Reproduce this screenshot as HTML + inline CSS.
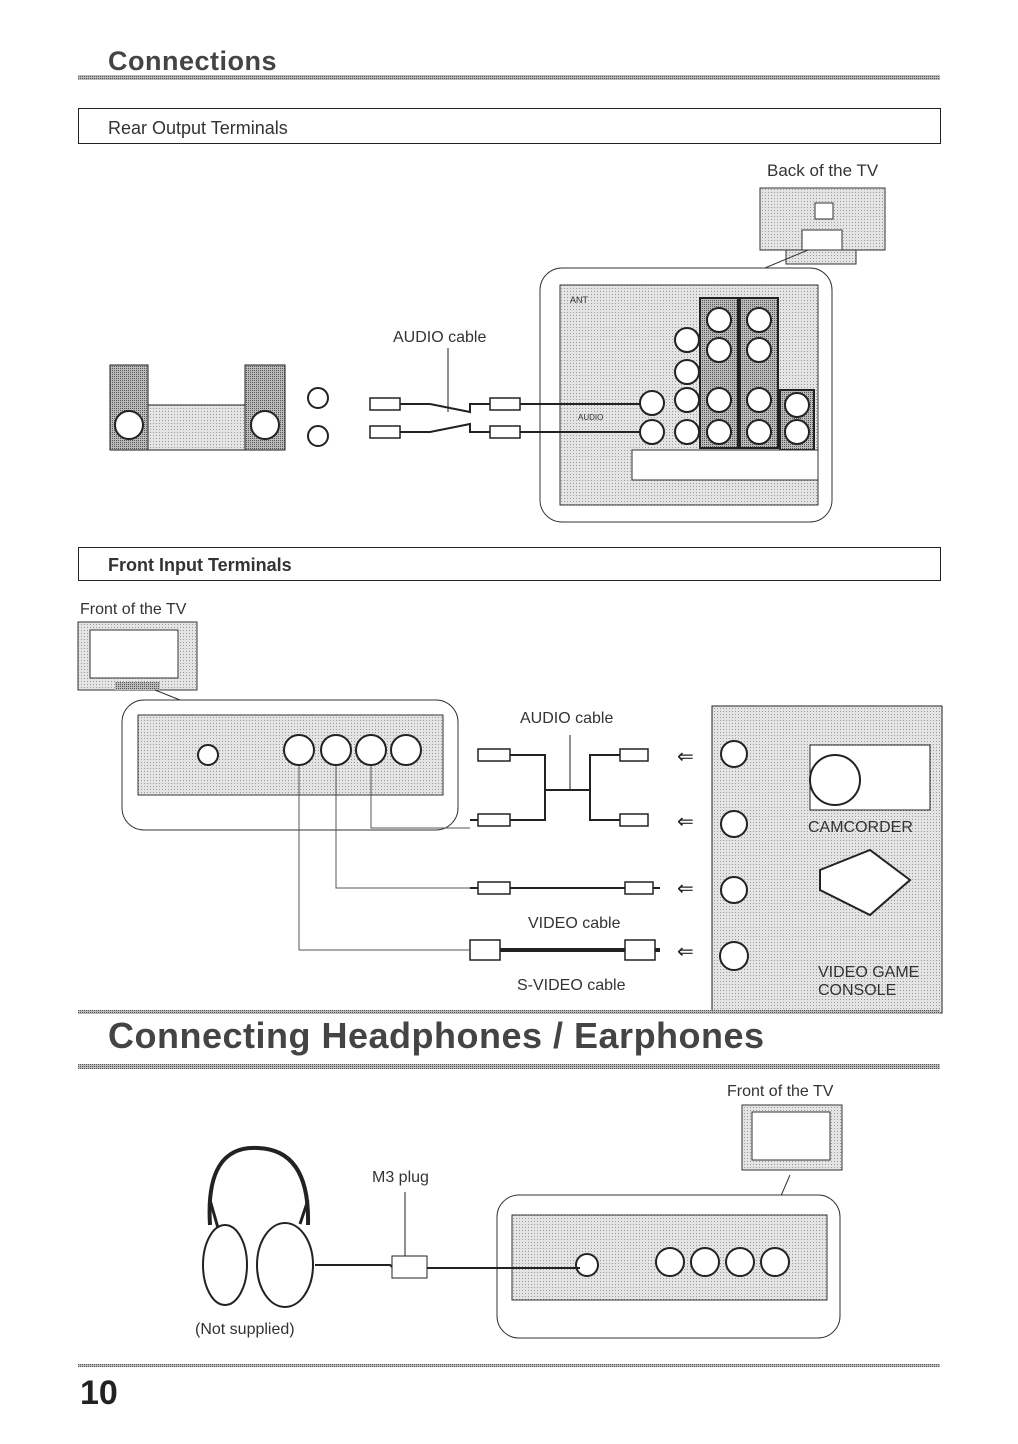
<!DOCTYPE html>
<html><head><meta charset="utf-8"><style>
html,body{margin:0;padding:0;background:#fff;}
svg{display:block;font-family:"Liberation Sans",sans-serif;}
</style></head><body>
<svg width="1018" height="1444" viewBox="0 0 1018 1444" xmlns="http://www.w3.org/2000/svg">
<defs>
<pattern id="ht" width="3" height="3" patternUnits="userSpaceOnUse"><rect width="3" height="3" fill="#e4e4e4"/><rect width="1" height="1" fill="#9a9a9a"/></pattern>
<pattern id="ht2" width="2" height="2" patternUnits="userSpaceOnUse"><rect width="2" height="2" fill="#bbb"/><rect width="1" height="1" fill="#555"/></pattern>
</defs>
<text x="108" y="70" font-size="27" font-weight="bold" fill="#444" letter-spacing="0.5">Connections</text>
<rect x="78" y="75" width="862" height="5" fill="url(#ht2)"/>
<rect x="78.5" y="108.5" width="862" height="35" fill="none" stroke="#222"/>
<text x="108" y="134" font-size="18" fill="#333">Rear Output Terminals</text>
<text x="767" y="176" font-size="17" fill="#333">Back of the TV</text>
<rect x="760" y="188" width="125" height="62" fill="url(#ht)" stroke="#333"/>
<rect x="815" y="203" width="18" height="16" fill="#fff" stroke="#333"/>
<rect x="802" y="230" width="40" height="20" fill="#fff" stroke="#333"/>
<rect x="786" y="250" width="70" height="14" fill="url(#ht)" stroke="#333"/>
<line x1="808" y1="250" x2="760" y2="270" stroke="#333"/>
<rect x="540" y="268" width="292" height="254" rx="22" fill="#fff" stroke="#333"/>
<rect x="560" y="285" width="258" height="220" fill="url(#ht)" stroke="#333"/>
<g stroke="#222" fill="#fff" stroke-width="2">
<rect x="700" y="298" width="38" height="150" fill="url(#ht2)"/><rect x="740" y="298" width="38" height="150" fill="url(#ht2)"/>
<rect x="780" y="390" width="34" height="60" fill="url(#ht2)"/>
<circle cx="719" cy="320" r="12"/><circle cx="759" cy="320" r="12"/>
<circle cx="719" cy="350" r="12"/><circle cx="759" cy="350" r="12"/>
<circle cx="719" cy="400" r="12"/><circle cx="759" cy="400" r="12"/>
<circle cx="719" cy="432" r="12"/><circle cx="759" cy="432" r="12"/>
<circle cx="687" cy="400" r="12"/><circle cx="687" cy="432" r="12"/>
<circle cx="687" cy="340" r="12"/><circle cx="687" cy="372" r="12"/>
<circle cx="797" cy="405" r="12"/><circle cx="797" cy="432" r="12"/>
<circle cx="652" cy="403" r="12"/><circle cx="652" cy="432" r="12"/>
</g>
<rect x="632" y="450" width="186" height="30" fill="#fff" stroke="#333"/>
<text x="570" y="303" font-size="9" fill="#333">ANT</text>
<text x="578" y="420" font-size="8" fill="#333">AUDIO</text>
<rect x="110" y="365" width="38" height="85" fill="url(#ht2)" stroke="#222"/>
<rect x="245" y="365" width="40" height="85" fill="url(#ht2)" stroke="#222"/>
<rect x="148" y="405" width="97" height="45" fill="url(#ht)" stroke="#222"/>
<circle cx="129" cy="425" r="14" fill="#fff" stroke="#222" stroke-width="2"/>
<circle cx="265" cy="425" r="14" fill="#fff" stroke="#222" stroke-width="2"/>
<circle cx="318" cy="398" r="10" fill="#fff" stroke="#222" stroke-width="2"/>
<circle cx="318" cy="436" r="10" fill="#fff" stroke="#222" stroke-width="2"/>
<text x="393" y="342" font-size="16" fill="#333">AUDIO cable</text>
<line x1="448" y1="348" x2="448" y2="412" stroke="#222"/>
<g stroke="#222" stroke-width="2" fill="none">
<path d="M370 404 H430 L470 412 L470 404 H640"/>
<path d="M370 432 H430 L470 424 L470 432 H640"/>
</g>
<g fill="#fff" stroke="#222" stroke-width="1.5">
<rect x="370" y="398" width="30" height="12"/><rect x="370" y="426" width="30" height="12"/>
<rect x="490" y="398" width="30" height="12"/><rect x="490" y="426" width="30" height="12"/>
</g>
<rect x="78.5" y="547.5" width="862" height="33" fill="none" stroke="#222"/>
<text x="108" y="571" font-size="18" font-weight="bold" fill="#333">Front Input Terminals</text>
<text x="80" y="614" font-size="16" fill="#333">Front of the TV</text>
<rect x="78" y="622" width="119" height="68" fill="url(#ht)" stroke="#333"/>
<rect x="90" y="630" width="88" height="48" fill="#fff" stroke="#333"/>
<rect x="115" y="682" width="45" height="8" fill="url(#ht2)"/>
<line x1="155" y1="690" x2="185" y2="702" stroke="#333"/>
<rect x="122" y="700" width="336" height="130" rx="22" fill="#fff" stroke="#333"/>
<rect x="138" y="715" width="305" height="80" fill="url(#ht)" stroke="#333"/>
<g fill="#fff" stroke="#222" stroke-width="2">
<circle cx="208" cy="755" r="10"/><circle cx="299" cy="750" r="15"/><circle cx="336" cy="750" r="15"/><circle cx="371" cy="750" r="15"/><circle cx="406" cy="750" r="15"/>
</g>
<text x="520" y="723" font-size="16" fill="#333">AUDIO cable</text>
<line x1="570" y1="735" x2="570" y2="790" stroke="#222"/>
<g stroke="#222" stroke-width="2" fill="none">
<path d="M510 755 H545 V820 H470"/><path d="M590 790 V755 H640"/><path d="M545 790 H590 V820 H640"/>
<path d="M470 888 H660"/><path d="M470 950 H660" stroke-width="4"/>
</g>
<g fill="#fff" stroke="#222" stroke-width="1.5">
<rect x="478" y="749" width="32" height="12"/><rect x="478" y="814" width="32" height="12"/>
<rect x="620" y="749" width="28" height="12"/><rect x="620" y="814" width="28" height="12"/>
<rect x="478" y="882" width="32" height="12"/><rect x="625" y="882" width="28" height="12"/>
<rect x="470" y="940" width="30" height="20"/><rect x="625" y="940" width="30" height="20"/>
</g>
<g stroke="#555" fill="none">
<path d="M299 766 V950 H470"/><path d="M336 766 V888 H470"/><path d="M371 766 V828 H470"/>
</g>
<text x="528" y="928" font-size="16" fill="#333">VIDEO cable</text>
<text x="517" y="990" font-size="16" fill="#333">S-VIDEO cable</text>
<g font-size="20" fill="#222"><text x="677" y="763">⇐</text><text x="677" y="828">⇐</text><text x="677" y="895">⇐</text><text x="677" y="958">⇐</text></g>
<rect x="712" y="706" width="230" height="307" fill="url(#ht)" stroke="#222"/>
<g fill="#fff" stroke="#222" stroke-width="2">
<circle cx="734" cy="754" r="13"/><circle cx="734" cy="824" r="13"/><circle cx="734" cy="890" r="13"/><circle cx="734" cy="956" r="14"/>
</g>
<rect x="810" y="745" width="120" height="65" fill="#fff" stroke="#222"/>
<circle cx="835" cy="780" r="25" fill="#fff" stroke="#222" stroke-width="2"/>
<path d="M820 870 L870 850 L910 880 L870 915 L820 890Z" fill="#fff" stroke="#222" stroke-width="2"/>
<text x="808" y="832" font-size="16" fill="#333">CAMCORDER</text>
<text x="818" y="977" font-size="16" fill="#333">VIDEO GAME</text>
<text x="818" y="995" font-size="16" fill="#333">CONSOLE</text>
<rect x="78" y="1010" width="862" height="4" fill="url(#ht2)"/>
<text x="108" y="1048" font-size="36" font-weight="bold" fill="#444" letter-spacing="0.5">Connecting Headphones / Earphones</text>
<rect x="78" y="1064" width="862" height="5" fill="url(#ht2)"/>
<text x="727" y="1096" font-size="16" fill="#333">Front of the TV</text>
<rect x="742" y="1105" width="100" height="65" fill="url(#ht)" stroke="#333"/>
<rect x="752" y="1112" width="78" height="48" fill="#fff" stroke="#333"/>
<line x1="790" y1="1175" x2="780" y2="1198" stroke="#333"/>
<rect x="497" y="1195" width="343" height="143" rx="22" fill="#fff" stroke="#333"/>
<rect x="512" y="1215" width="315" height="85" fill="url(#ht)" stroke="#333"/>
<g fill="#fff" stroke="#222" stroke-width="2">
<circle cx="587" cy="1265" r="11"/><circle cx="670" cy="1262" r="14"/><circle cx="705" cy="1262" r="14"/><circle cx="740" cy="1262" r="14"/><circle cx="775" cy="1262" r="14"/>
</g>
<ellipse cx="225" cy="1265" rx="22" ry="40" fill="#fff" stroke="#222" stroke-width="2"/>
<ellipse cx="285" cy="1265" rx="28" ry="42" fill="#fff" stroke="#222" stroke-width="2"/>
<path d="M210 1225 Q205 1145 258 1148 Q310 1150 308 1225" fill="none" stroke="#222" stroke-width="4"/>
<path d="M218 1228 L210 1200 M300 1224 L308 1200" stroke="#222" stroke-width="3"/>
<path d="M315 1265 H390 Q400 1275 420 1268 H580" fill="none" stroke="#222" stroke-width="2"/>
<rect x="392" y="1256" width="35" height="22" fill="#fff" stroke="#222"/>
<text x="372" y="1182" font-size="16" fill="#333">M3 plug</text>
<line x1="405" y1="1192" x2="405" y2="1256" stroke="#222"/>
<text x="195" y="1334" font-size="16" fill="#333">(Not supplied)</text>
<rect x="78" y="1364" width="862" height="3" fill="url(#ht2)"/>
<text x="80" y="1404" font-size="34" font-weight="bold" fill="#222">10</text>
</svg>
</body></html>
